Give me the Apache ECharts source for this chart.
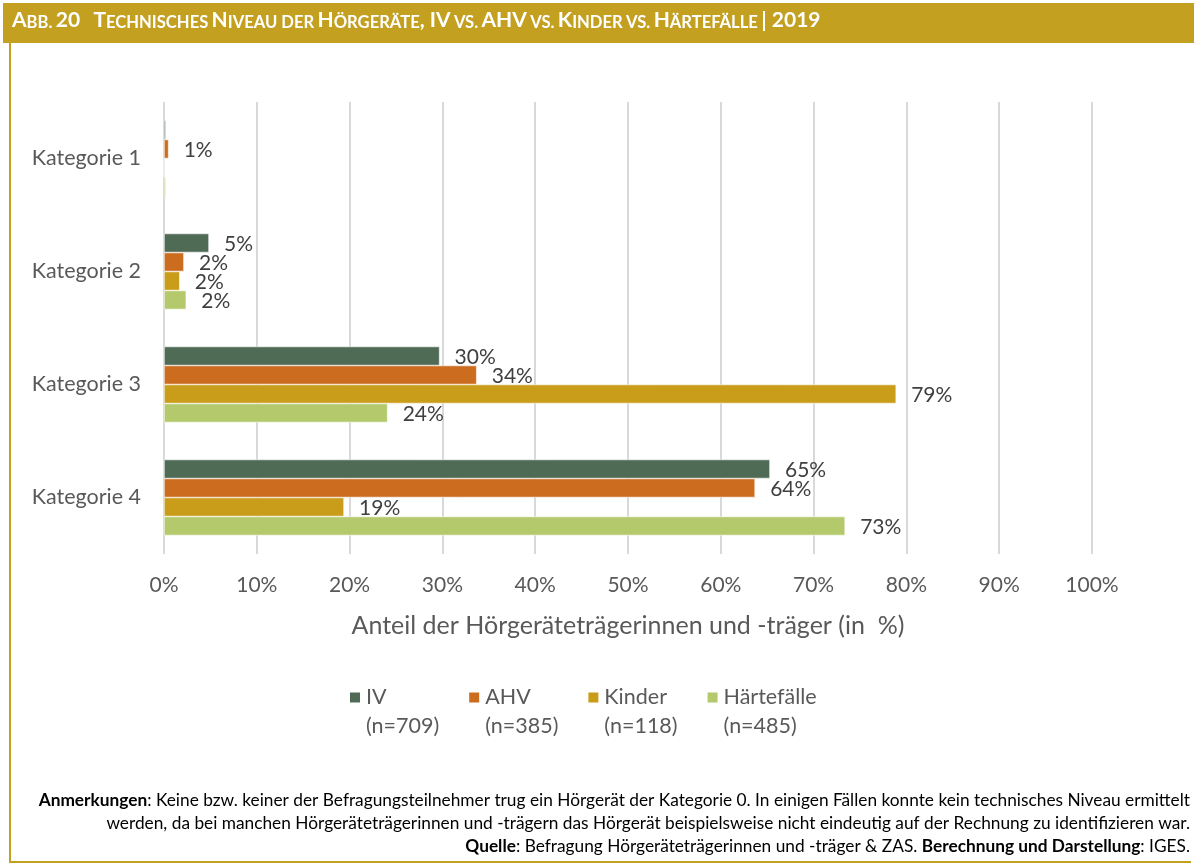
<!DOCTYPE html>
<html>
<head>
<meta charset="utf-8">
<script src="https://cdn.jsdelivr.net/npm/echarts@6/dist/echarts.min.js"></script>
<style>
  html, body { margin: 0; padding: 0; background: #fff; }
  #chart { width: 1194px; height: 865px; }
</style>
</head>
<body>
<div id="chart"></div>
<script>
// Kategorien und Anteile (in %)
const categories = ['Kategorie 1', 'Kategorie 2', 'Kategorie 3', 'Kategorie 4'];
const seriesNames = ['IV', 'AHV', 'Kinder', 'Härtefälle'];
const sampleSizes = ['(n=709)', '(n=385)', '(n=118)', '(n=485)'];
const ivValues = [0.2, 4.85, 29.7, 65.3];
const ahvValues = [0.5, 2.15, 33.7, 63.7];
const kinderValues = [0, 1.7, 78.9, 19.4];
const haerteValues = [0.2, 2.4, 24.1, 73.4];
const xTicks = [0, 10, 20, 30, 40, 50, 60, 70, 80, 90, 100];

const colors = ['#4f6a55', '#cb6c1f', '#c99c19', '#b3c96c'];
const gold = '#c3a020';
const font = 'Lato, "Open Sans", sans-serif';

const chart = echarts.init(document.getElementById('chart'));

const allValues = [ivValues, ahvValues, kinderValues, haerteValues];

const series = seriesNames.map((name, i) => ({
  name: name,
  type: 'bar',
  data: allValues[i],
  barWidth: 19,
  barGap: '0%',
  itemStyle: { color: colors[i], borderColor: '#fff', borderWidth: 0.6 },
  label: {
    show: true,
    position: 'right',
    distance: 15,
    fontFamily: font,
    fontSize: 21,
    color: '#404040',
    offset: [0, 1],
    formatter: (p) => (p.value >= 0.5 ? Math.round(p.value) + '%' : '')
  }
}));

// Überschrift in Kapitälchen
const titleRich = '{b|A}{s|BB.} {b|20}    {b|T}{s|ECHNISCHES} {b|N}{s|IVEAU DER} {b|H}{s|ÖRGERÄTE}{b|, IV} {s|VS.} {b|AHV} {s|VS.} {b|K}{s|INDER} {s|VS.} {b|H}{s|ÄRTEFÄLLE} {b|| 2019}';

// Fußnote, jede Zeile rechtsbündig
const noteLines = [
  '{b|Anmerkungen}: Keine bzw. keiner der Befragungsteilnehmer trug ein Hörgerät der Kategorie 0. In einigen Fällen konnte kein technisches Niveau ermittelt',
  'werden, da bei manchen Hörgeräteträgerinnen und -trägern das Hörgerät beispielsweise nicht eindeutig auf der Rechnung zu identifizieren war.',
  '{b|Quelle}: Befragung Hörgeräteträgerinnen und -träger & ZAS. {b|Berechnung und Darstellung}: IGES.'
];

const noteGraphics = noteLines.map((line, i) => ({
  type: 'text', right: 4, top: 792 + i * 23,
  style: {
    text: line,
    fontFamily: font,
    fontSize: 17.3,
    fill: '#000',
    rich: {
      b: { fontFamily: font, fontSize: 17.3, fontWeight: 'bold', fill: '#000' }
    }
  }
}));

const option = {
  backgroundColor: '#fff',
  animation: false,
  textStyle: { fontFamily: font },
  graphic: [
    { type: 'rect', shape: { x: 3, y: 3, width: 1191, height: 40 }, style: { fill: gold } },
    { type: 'rect', shape: { x: 9, y: 43, width: 2, height: 820 }, style: { fill: gold } },
    { type: 'rect', shape: { x: 9, y: 861, width: 1182, height: 2 }, style: { fill: gold } },
    {
      type: 'text', left: 12, top: 10,
      style: {
        text: titleRich,
        rich: {
          b: { fontFamily: font, fontWeight: 'bold', fontSize: 21, fill: '#fff', verticalAlign: 'bottom', lineHeight: 24 },
          s: { fontFamily: font, fontWeight: 'bold', fontSize: 16.6, fill: '#fff', verticalAlign: 'bottom', lineHeight: 19 }
        }
      }
    }
  ].concat(noteGraphics),
  grid: { left: 164, top: 102, width: 928, height: 452, containLabel: false },
  xAxis: {
    type: 'value',
    min: 0,
    max: 100,
    interval: 10,
    axisLine: { show: false },
    axisTick: { show: false },
    splitLine: { show: true, lineStyle: { color: '#d9d9d9', width: 2 } },
    axisLabel: {
      fontFamily: font, fontSize: 21, color: '#595959', margin: 21,
      formatter: (v) => (xTicks.includes(v) ? v + '%' : '')
    },
    name: 'Anteil der Hörgeräteträgerinnen und -träger (in  %)',
    nameLocation: 'middle',
    nameGap: 59,
    nameTextStyle: { fontFamily: font, fontSize: 25, color: '#595959' }
  },
  yAxis: {
    type: 'category',
    data: categories,
    inverse: true,
    axisLine: { show: false },
    axisTick: { show: false },
    axisLabel: { fontFamily: font, fontSize: 21.5, color: '#595959', margin: 23 }
  },
  legend: {
    data: seriesNames,
    left: 348,
    top: 654,
    padding: 0,
    itemWidth: 12,
    itemHeight: 12,
    itemGap: 28,
    icon: 'rect',
    // leere erste Zeile, damit das Symbol auf Höhe der ersten Textzeile sitzt
    formatter: (name) => ' \n' + name + '\n' + sampleSizes[seriesNames.indexOf(name)],
    textStyle: { fontFamily: font, fontSize: 21.5, color: '#595959', lineHeight: 29 }
  },
  series: series
};

chart.setOption(option);
</script>
</body>
</html>
